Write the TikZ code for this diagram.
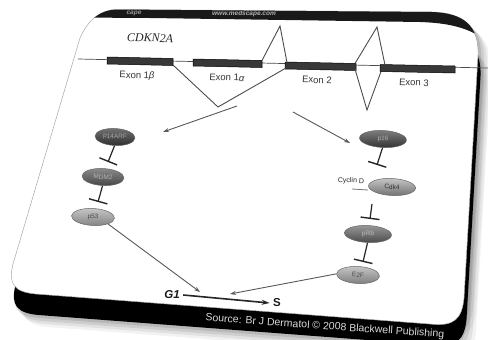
\documentclass[tikz,border=0pt]{standalone}
\usepackage{fontspec}
\setmainfont{Liberation Sans}
\newfontfamily\serifit{Liberation Serif}
\usetikzlibrary{shapes.geometric,arrows.meta}
\newcommand\cardpath[1]{\path[#1] (118,9.5) -- (432,12) .. controls (464,13) and (479,26) .. (478,55) -- (464,298) .. controls (462,318) and (455,327) .. (430,324) -- (36,294) .. controls (14,292) and (8,284) .. (13,264) -- (80,38) .. controls (88,20) and (100,9.5) .. (118,9.5) -- cycle;}
\begin{document}
\begin{tikzpicture}[x=1pt,y=-1pt,
  ell/.style={ellipse, draw=black!60, line width=0.5pt, minimum width=#1, minimum height=17pt, inner sep=0pt, font=\fontsize{6.5}{6.5}\selectfont, rotate=-3},
  inh/.style={line width=1.2pt, black!85, -{Bar[width=19pt,line width=1.4pt]}},
  act/.style={-{Stealth[length=6pt,width=4pt]}, line width=0.9pt, black!65},
  spl/.style={line width=0.9pt, black!70},
  exonbox/.style={fill=black!78, draw=black, line width=0.5pt},
  lab/.style={font=\fontsize{9.5}{9.5}\selectfont, text=black!80, rotate=-2}
]
\useasboundingbox (0,0) rectangle (488,340);
% shadows
\foreach \k/\o in {12/0.05,9/0.07,6/0.09,3/0.1}{
  \cardpath{fill=black, opacity=\o, shift={(\k,21+\k)}}
  \cardpath{fill=black, opacity=\o, shift={(\k,\k)}}
}
% slab
\cardpath{fill=black, shift={(2.5,21)}}
\begin{scope}
  \cardpath{clip, shift={(2.5,21)}}
  \node[anchor=west, rotate=-4, text=white!85!black, font=\fontsize{10.5}{10.5}\selectfont] (src) at (202,318) {Source: Br J Dermatol © 2008 Blackwell Publishing};
\end{scope}
% face
\cardpath{fill=white, draw=black!35, line width=0.5pt}
\begin{scope}
  \cardpath{clip}
  \fill[black!90] (0,0) -- (488,0) -- (488,42) .. controls (470,28) and (450,23) .. (420,22) -- (150,18) -- (0,17) -- cycle;
  \node[text=white!70!black, font=\fontsize{6.5}{6.5}\selectfont\itshape\bfseries, rotate=-0.5] (web) at (244,14) {www.medscape.com};
  \node[text=white!60!black, font=\fontsize{6.5}{6.5}\selectfont\itshape\bfseries, rotate=-0.5] (msc) at (134,13.5) {cape};
\end{scope}
% gene
\node[font=\serifit\itshape\fontsize{12}{12}\selectfont, text=black!85, rotate=-2] (gene) at (150,38) {CDKN2A};
\coordinate (bbL) at (78,59);
\coordinate (bbR) at (488,68);
\draw[black!70, line width=0.7pt] (bbL) -- (bbR);
\draw[exonbox] (107,57) -- (173,58.5) -- (173,65.5) -- (107,64) -- cycle;
\draw[exonbox] (193,59) -- (262,60.5) -- (262,67.5) -- (193,66) -- cycle;
\draw[exonbox] (285,62) -- (356,63.5) -- (356,70.5) -- (285,69) -- cycle;
\draw[exonbox] (380,64.5) -- (455,66) -- (455,73) -- (380,71.5) -- cycle;
\node[lab] (e1b) at (137,76) {Exon 1\textit{β}};
\node[lab] (e1a) at (227,77.5) {Exon 1\textit{α}};
\node[lab] (e2) at (317,80) {Exon 2};
\node[lab] (e3) at (414,82.5) {Exon 3};
% splicing
\draw[spl] (173,65) -- (218,107) -- (286,68);
\draw[spl] (262,60.5) -- (280,26) -- (287,62.5);
\draw[spl] (355,63.5) -- (377,27) -- (385,65);
\draw[spl] (355,69) -- (367,110) -- (381,71.5);
% left pathway
\node[ell=40pt, top color=black!55, bottom color=black!82, text=black!35] (arf) at (115,137) {p14ARF};
\node[ell=42pt, top color=black!45, bottom color=black!72, text=black!30] (mdm) at (103,177) {MDM2};
\node[ell=43pt, top color=black!22, bottom color=black!48, text=black!70] (p53) at (93,217) {p53};
\coordinate (t1) at (108,162);
\coordinate (t2) at (98,202);
\draw[inh] (arf.south) -- (t1);
\draw[inh] (mdm.south) -- (t2);
% right pathway
\node[ell=47pt, top color=black!50, bottom color=black!80, text=black!30] (p16) at (383,139) {p16};
\node[font=\fontsize{7}{7}\selectfont, text=black!85, rotate=-3] (cycd) at (351,181) {Cyclin D};
\node[ell=47pt, top color=black!22, bottom color=black!55, text=black!80] (cdk) at (392,187) {Cdk4};
\node[ell=47pt, top color=black!40, bottom color=black!70, text=black!25] (prb) at (368,234) {pRb};
\node[ell=43pt, top color=black!22, bottom color=black!50, text=black!70] (e2f) at (358,275) {E2F};
\coordinate (cu1) at (352,189);
\coordinate (cu2) at (368,190);
\draw[black!55, line width=0.8pt] (cu1) -- (cu2);
\coordinate (t3) at (377,165);
\coordinate (s4) at (372,204);
\coordinate (t4) at (370,219);
\coordinate (t5) at (363,262);
\draw[inh] (p16.south) -- (t3);
\draw[inh] (s4) -- (t4);
\draw[inh] (prb.south) -- (t5);
% cell cycle
\node[font=\fontsize{11.5}{11.5}\selectfont\bfseries\itshape, text=black!90] (g1) at (172,295) {G1};
\node[font=\fontsize{11.5}{11.5}\selectfont\bfseries, text=black!90] (s) at (277,303) {S};
\draw[-{Stealth[length=8pt,width=5pt]}, line width=1.6pt, black!85] (g1.east) -- (s.west);
% activation arrows
\coordinate (a1s) at (237,106);
\coordinate (a1e) at (163,132);
\coordinate (a2s) at (293,112);
\coordinate (a2e) at (350,143);
\coordinate (a3e) at (200,292);
\coordinate (a4e) at (230,294);
\draw[act] (a1s) -- (a1e);
\draw[act] (a2s) -- (a2e);
\draw[act] (p53.south east) -- (a3e);
\draw[act] (e2f.west) -- (a4e);
\end{tikzpicture}
\end{document}
